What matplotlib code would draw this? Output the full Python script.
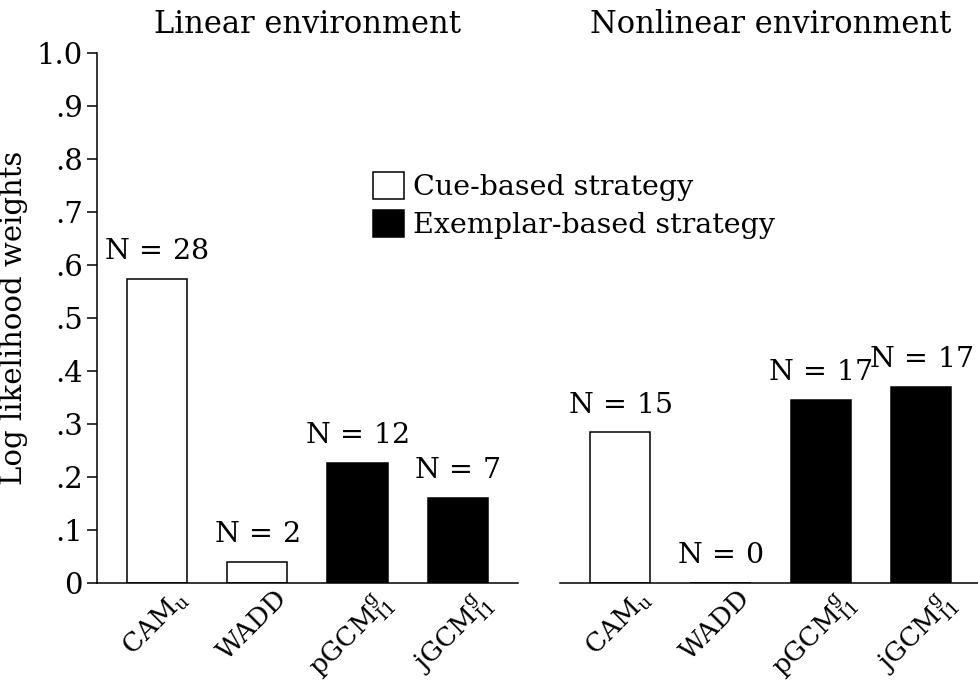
import numpy as np
import matplotlib.pyplot as plt
import matplotlib.transforms as mtransforms
from matplotlib.patches import Patch

plt.rcParams['font.family'] = 'DejaVu Serif'
plt.rcParams['mathtext.fontset'] = 'dejavuserif'

models = ['CAM$_\\mathrm{u}$', 'WADD', 'pGCM$^\\mathrm{g}_\\mathrm{I1}$', 'jGCM$^\\mathrm{g}_\\mathrm{I1}$']
is_exemplar = [False, False, True, True]
linear_w = [0.573, 0.040, 0.227, 0.160]
linear_n = [28, 2, 12, 7]
nonlinear_w = [0.284, 0.0, 0.345, 0.370]
nonlinear_n = [15, 0, 17, 17]
titles = ['Linear environment', 'Nonlinear environment']
yticks = [0, .1, .2, .3, .4, .5, .6, .7, .8, .9, 1.0]
ytick_labels = ['0', '.1', '.2', '.3', '.4', '.5', '.6', '.7', '.8', '.9', '1.0']

fig = plt.figure(figsize=(9.79, 6.84), dpi=100)
ax1 = fig.add_axes([0.0988, 0.1477, 0.4303, 0.7749])
ax2 = fig.add_axes([0.572, 0.1477, 0.4303, 0.7749])

x = np.arange(len(models))
colors = ['black' if e else 'white' for e in is_exemplar]

for ax, w, n, t in [(ax1, linear_w, linear_n, titles[0]), (ax2, nonlinear_w, nonlinear_n, titles[1])]:
    ax.bar(x, w, width=0.6, color=colors, edgecolor='black', linewidth=1.1)
    for xi, wi, ni in zip(x, w, n):
        ax.annotate('N$\\,=\\,$%d' % ni, (xi, wi), xytext=(0, 10), textcoords='offset points',
                    ha='center', va='bottom', fontsize=20.5)
    ax.set_xlim(-0.6, 3.6)
    ax.set_ylim(0, 1.0)
    ax.set_title(t, fontsize=22, pad=14)
    ax.spines['top'].set_visible(False)
    ax.spines['right'].set_visible(False)
    ax.spines['bottom'].set_linewidth(1.1)
    ax.set_xticks(x)
    ax.set_xticklabels(models, rotation=45, ha='right', rotation_mode='anchor', fontsize=19)
    ax.tick_params(axis='x', length=0, pad=2)
    off = mtransforms.ScaledTranslation(0.17, 0, fig.dpi_scale_trans)
    for lbl in ax.get_xticklabels():
        lbl.set_transform(lbl.get_transform() + off)

ax1.spines['left'].set_linewidth(1.1)
ax1.set_yticks(yticks)
ax1.set_yticklabels(ytick_labels, fontsize=21)
ax1.tick_params(axis='y', length=7, width=1.1, pad=3)
ax1.set_ylabel('Log likelihood weights', fontsize=21, labelpad=6)

ax2.spines['left'].set_visible(False)
ax2.set_yticks([])

handles = [Patch(facecolor='white', edgecolor='black', linewidth=1.1, label='Cue-based strategy'),
           Patch(facecolor='black', edgecolor='black', linewidth=1.1, label='Exemplar-based strategy')]
fig.legend(handles=handles, loc='upper left', bbox_to_anchor=(0.381, 0.749), frameon=False,
           fontsize=20.5, handlelength=1.1, handleheight=1.1, handletextpad=0.3,
           labelspacing=0.3, borderpad=0, borderaxespad=0)

fig.savefig('out.png', dpi=100)
